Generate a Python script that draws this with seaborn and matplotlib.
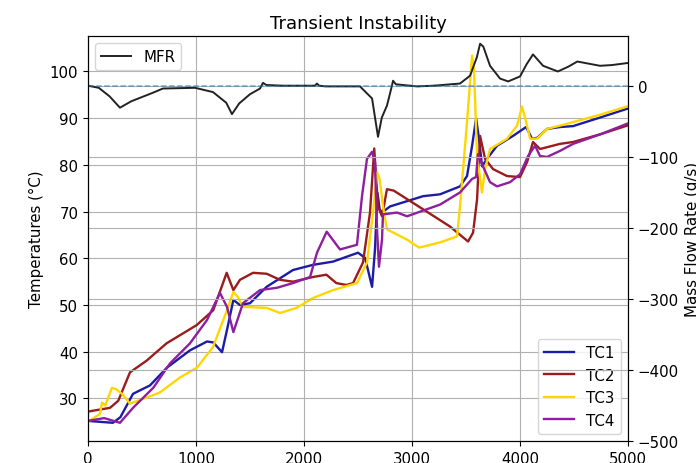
import numpy as np
import matplotlib
matplotlib.use("Agg")
import matplotlib.pyplot as plt
import seaborn as sns

# mass flow rate (g/s), right axis
mfr_t = [0, 100, 200, 296, 400, 600, 694, 991, 1157, 1280, 1333, 1400, 1500, 1593, 1620, 1650,
         1800, 2000, 2100, 2120, 2140, 2200, 2400, 2518, 2630, 2685, 2720, 2768, 2814, 2824, 2850,
         3046, 3200, 3444, 3537, 3600, 3630, 3660, 3722, 3815, 3890, 4000, 4060, 4120, 4213,
         4350, 4450, 4530, 4600, 4740, 4850, 5000]
mfr = [0, -3, -15, -31, -22, -10, -4, -3, -9, -24, -40, -25, -12, -4, 4, 1,
       0, 0, 0, 3, 0, -1, -1, -1, -18, -72, -45, -28, 0, 7, 2,
       -1, 0, 3, 14, 40, 59, 55, 28, 10, 6, 13, 30, 44, 28,
       20, 27, 34, 32, 28, 29, 32]

# temperatures (°C), left axis
tc1_t = [0, 231, 300, 417, 574, 731, 944, 1102, 1160, 1241, 1290, 1346, 1407, 1500, 1654, 1898,
         2083, 2269, 2500, 2565, 2630, 2657, 2680, 2700, 2722, 2796, 3102, 3259, 3444, 3509, 3556,
         3593, 3620, 3648, 3694, 3787, 3935, 4056, 4111, 4160, 4250, 4370, 4491, 4750, 4990]
tc1 = [25.2, 24.8, 26.0, 31.0, 32.8, 36.6, 40.3, 42.2, 42.0, 39.9, 45.0, 51.1, 50.0, 50.4, 53.9, 57.5,
       58.6, 59.3, 61.2, 60.1, 53.9, 61.9, 74.0, 70.5, 69.8, 71.1, 73.3, 73.7, 75.4, 77.6, 84.1,
       89.9, 85.6, 79.7, 81.3, 84.1, 86.2, 88.1, 85.6, 85.8, 87.7, 88.1, 88.3, 90.2, 92.0]

tc2_t = [0, 204, 280, 389, 543, 727, 1006, 1160, 1284, 1346, 1407, 1528, 1654, 1778, 1898, 2083,
         2207, 2299, 2392, 2454, 2546, 2611, 2650, 2685, 2722, 2768, 2830, 3102, 3352, 3519, 3565,
         3602, 3630, 3676, 3750, 3880, 4000, 4065, 4120, 4185, 4370, 4491, 4750, 4990]
tc2 = [27.2, 28.0, 29.5, 35.6, 38.1, 41.8, 45.7, 48.9, 56.9, 53.2, 55.4, 56.9, 56.7, 55.4, 55.0, 56.0,
       56.5, 54.7, 54.3, 54.7, 59.1, 69.8, 83.5, 71.1, 69.0, 74.8, 74.5, 70.5, 66.8, 63.6, 65.5,
       72.6, 86.2, 81.3, 79.1, 77.6, 77.4, 80.6, 84.9, 83.4, 84.5, 84.9, 86.6, 88.4]

tc3_t = [0, 111, 130, 160, 222, 260, 315, 389, 543, 667, 852, 1009, 1157, 1287, 1346, 1389, 1435,
         1654, 1778, 1932, 2083, 2269, 2490, 2583, 2639, 2676, 2700, 2731, 2768, 2954, 3065, 3259,
         3417, 3444, 3509, 3556, 3574, 3602, 3648, 3676, 3722, 3880, 3972, 4019, 4056, 4093, 4157,
         4250, 4435, 4750, 4990]
tc3 = [25.0, 26.7, 29.1, 28.5, 32.3, 32.0, 31.0, 28.9, 30.2, 31.3, 34.5, 36.6, 41.0, 48.9, 52.8, 51.7, 49.6,
       49.4, 48.3, 49.4, 51.5, 53.2, 54.7, 59.1, 69.8, 78.4, 77.0, 71.1, 66.2, 64.0, 62.3, 63.4,
       64.7, 71.1, 89.2, 103.4, 100.0, 81.9, 74.1, 79.1, 83.4, 85.6, 88.4, 92.5, 89.2, 85.6, 85.6,
       87.7, 88.8, 90.8, 92.5]

tc4_t = [0, 150, 296, 417, 605, 759, 944, 1102, 1222, 1287, 1346, 1435, 1593, 1750, 1898, 2056,
         2120, 2210, 2333, 2490, 2537, 2583, 2630, 2657, 2676, 2694, 2722, 2731, 2861, 2954, 3259,
         3444, 3556, 3593, 3610, 3657, 3722, 3787, 3907, 4000, 4074, 4139, 4185, 4250, 4370, 4491,
         4750, 4990]
tc4 = [25.2, 25.8, 24.8, 28.0, 32.3, 37.5, 41.8, 46.8, 52.6, 49.6, 44.2, 50.4, 53.2, 53.7, 54.7, 56.0,
       61.2, 65.7, 61.9, 62.9, 73.3, 81.3, 82.8, 80.6, 66.2, 58.2, 64.0, 69.4, 69.8, 69.0, 71.5,
       74.1, 77.0, 77.4, 82.3, 79.7, 76.3, 75.4, 76.3, 78.0, 81.9, 84.1, 81.9, 81.7, 83.0, 84.5,
       86.6, 88.8]

tc_names = ["TC1", "TC2", "TC3", "TC4"]
tc_colors = ["#1c1ca6", "#9b1c1c", "#ffd700", "#8e1f9e"]

plt.rcParams["font.size"] = 10.8

fig = plt.figure(figsize=(6.96, 4.64), dpi=100)
ax = fig.add_axes([0.1264, 0.0474, 0.776, 0.873])
ax2 = ax.twinx()

for name, tt, vals, col in zip(tc_names, [tc1_t, tc2_t, tc3_t, tc4_t], [tc1, tc2, tc3, tc4], tc_colors):
    sns.lineplot(x=tt, y=vals, ax=ax, color=col, lw=1.7, label=name)

sns.lineplot(x=mfr_t, y=mfr, ax=ax2, color="#222222", lw=1.4, label="MFR")
ax2.axhline(0, ls="--", color="C0", alpha=0.6, lw=1.1)

ax.set_xlim(0, 5000)
ax.set_ylim(20.9, 107.6)
ax2.set_ylim(-500, 70)
ax.set_xticks([0, 1000, 2000, 3000, 4000, 5000])
ax.set_yticks([30, 40, 50, 60, 70, 80, 90, 100])
ax2.set_yticks([-500, -400, -300, -200, -100, 0])

ax.grid(True)
ax2.grid(True)

ax.set_ylabel("Temperatures (°C)")
ax2.set_ylabel("Mass Flow Rate (g/s)")
ax.set_xlabel("")
ax.set_title("Transient Instability", fontsize=13)

ax.legend(loc="lower right")
ax2.legend(loc="upper left")

fig.savefig("out.png", dpi=100)
